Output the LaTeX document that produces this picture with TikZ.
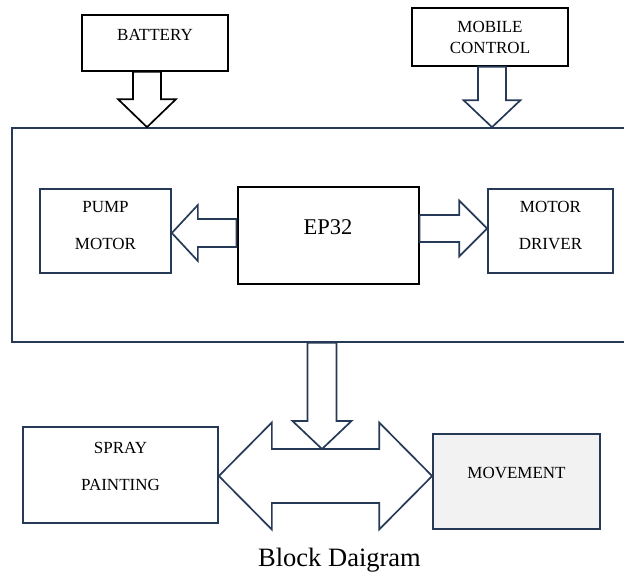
\documentclass[tikz,border=0pt]{standalone}
\usepackage{fontspec}
\setmainfont{Liberation Serif}
\usepackage{tikz}
\usetikzlibrary{calc}
\definecolor{boxnavy}{RGB}{38,58,88}
\definecolor{softgray}{RGB}{242,242,242}

% block arrow: [colour]{from}{tip}{shaft half width}{head half width}{head length}
\newcommand{\blockarrow}[6][boxnavy]{%
  \coordinate (ba-h) at ($(#3)!#6!(#2)$);
  \draw[#1,line width=1.7pt] ($(#2)!#4!90:(#3)$) -- ($(ba-h)!#4!90:(#3)$) -- ($(ba-h)!#5!90:(#3)$) -- (#3)
    -- ($(ba-h)!#5!-90:(#3)$) -- ($(ba-h)!#4!-90:(#3)$) -- ($(#2)!#4!-90:(#3)$) -- cycle;}
% double block arrow: [colour]{tip}{tip}{shaft half width}{head half width}{head length}
\newcommand{\dblarrow}[6][boxnavy]{%
  \coordinate (da-1) at ($(#2)!#6!(#3)$);
  \coordinate (da-2) at ($(#3)!#6!(#2)$);
  \draw[#1,line width=1.7pt] (#2) -- ($(da-1)!#5!90:(#3)$) -- ($(da-1)!#4!90:(#3)$) -- ($(da-2)!#4!-90:(#2)$)
    -- ($(da-2)!#5!-90:(#2)$) -- (#3) -- ($(da-2)!#5!90:(#2)$) -- ($(da-2)!#4!90:(#2)$)
    -- ($(da-1)!#4!-90:(#3)$) -- ($(da-1)!#5!-90:(#3)$) -- cycle;}

\begin{document}
\begin{tikzpicture}[x=1pt,y=-1pt]
\tikzstyle{navybox}=[draw=boxnavy,line width=1.7pt,inner sep=0pt]
\tikzstyle{blackbox}=[draw=black,line width=1.6pt,inner sep=0pt]
\tikzstyle{lbl}=[font=\fontsize{17}{37}\selectfont,align=center,inner sep=0pt]
\useasboundingbox (0,0) rectangle (624,571);

% outer frame, runs off the right edge
\node[navybox,minimum width=620,minimum height=214] (main) at (322,235) {};

% inputs
\node[blackbox,minimum width=146,minimum height=56] (bat) at (155,43) {};
\node[lbl] (battxt) at ([yshift=8]bat.center) {BATTERY};
\node[blackbox,minimum width=156,minimum height=58] (mob) at (490,37) {};
\node[lbl,font=\fontsize{17}{21}\selectfont] (mobtxt) at ([yshift=-0.5]mob.center) {MOBILE\\CONTROL};

% inside the frame
\node[navybox,minimum width=131,minimum height=84] (pm) at (105.5,231) {};
\node[lbl] (pmtxt) at ([yshift=5.5]pm.center) {PUMP\\MOTOR};
\node[blackbox,line width=2pt,minimum width=181,minimum height=97] (ep) at (328,235.5) {};
\node[lbl,font=\fontsize{22.5}{26}\selectfont] (eptxt) at ([yshift=8]ep.center) {EP32};
\node[navybox,minimum width=125,minimum height=84] (md) at (550.5,231) {};
\node[lbl] (mdtxt) at ([yshift=5.5]md.center) {MOTOR\\DRIVER};

% outputs
\node[navybox,minimum width=195,minimum height=96] (sp) at (120.5,475) {};
\node[lbl] (sptxt) at ([yshift=8.5]sp.center) {SPRAY\\PAINTING};
\node[navybox,fill=softgray,minimum width=167,minimum height=95] (mv) at (516.5,481.5) {};
\node[lbl] (mvtxt) at ([yshift=8.5]mv.center) {MOVEMENT};

\node[font=\fontsize{26.5}{30}\selectfont,anchor=base,inner sep=0pt] (cap) at (339.5,566) {Block Daigram};

% block arrows
\coordinate (bat-s) at ([xshift=-8]bat.south);
\coordinate (bat-e) at (bat-s |- main.north);
\blockarrow[black]{bat-s}{bat-e}{14pt}{29pt}{28pt}
\coordinate (mob-s) at ([xshift=2]mob.south);
\coordinate (mob-e) at (mob-s |- main.north);
\blockarrow{mob-s}{mob-e}{14pt}{28.5pt}{27pt}
\coordinate (ep-l) at ([yshift=2.5]ep.west);
\coordinate (pm-r) at (ep-l -| pm.east);
\blockarrow{ep-l}{pm-r}{14pt}{28pt}{26pt}
\coordinate (ep-r) at ([yshift=7]ep.east);
\coordinate (md-l) at (ep-r -| md.west);
\blockarrow{ep-r}{md-l}{13.5pt}{28pt}{28pt}
\coordinate (sp-r) at ([yshift=-1]sp.east);
\coordinate (mv-l) at (sp-r -| mv.west);
\dblarrow{sp-r}{mv-l}{27pt}{53.5pt}{53pt}
\path ($(sp-r)!0.5!(mv-l)$) ++(0,-27) coordinate (dbl-top);
\coordinate (main-e) at (main.south |- dbl-top);
\blockarrow{main.south}{main-e}{14.5pt}{29.5pt}{28pt}
\end{tikzpicture}
\end{document}
